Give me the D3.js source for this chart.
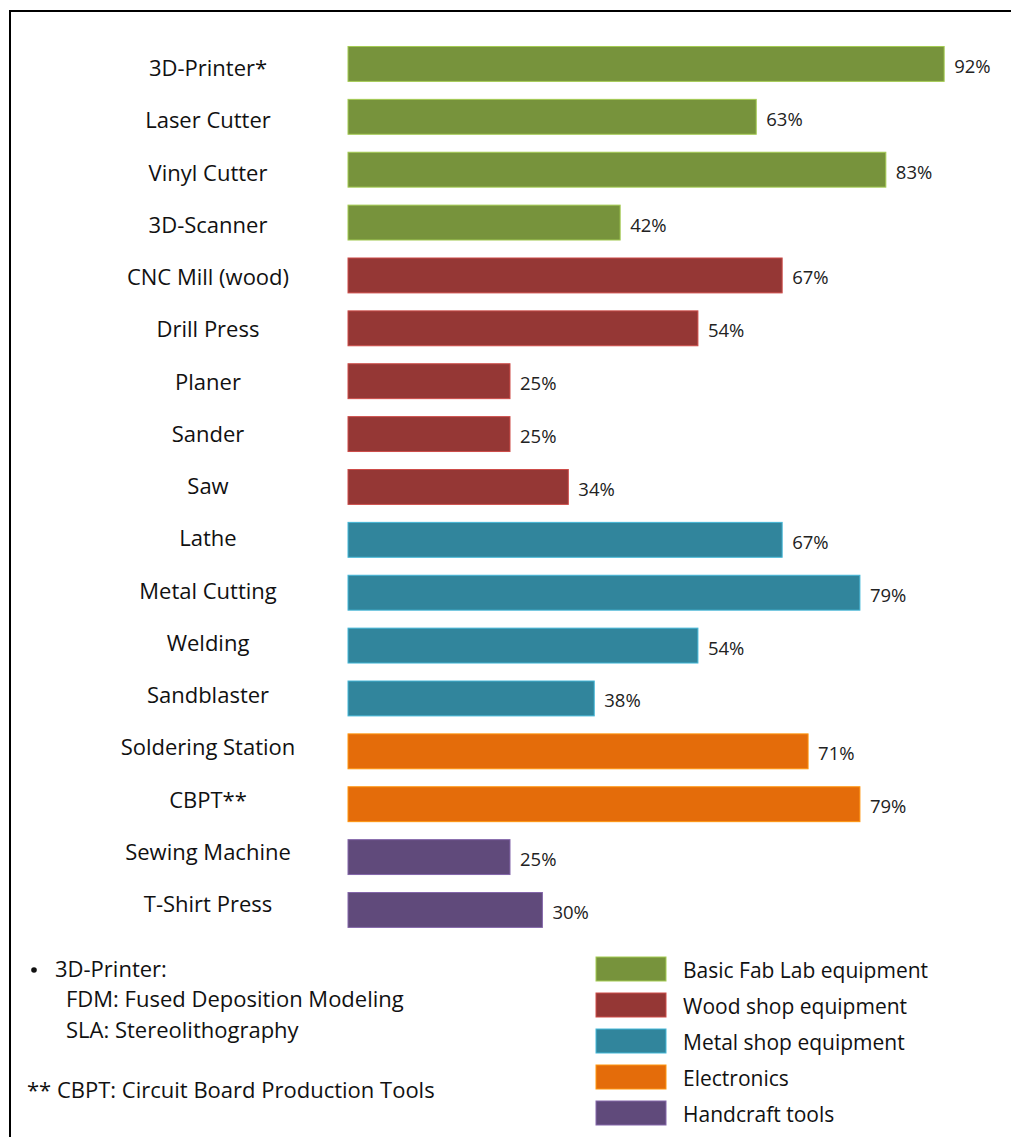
<!DOCTYPE html>
<html>
<head>
<meta charset="utf-8">
<script src="https://cdn.jsdelivr.net/npm/d3@7"></script>
<style>
  html, body { margin: 0; padding: 0; background: #fff; }
  svg { display: block; font-family: "Open Sans", "Noto Sans", sans-serif; }
</style>
</head>
<body>
<svg id="chart" width="1011" height="1137"></svg>
<script>
// Equipment available in labs (share of labs, %)
const categories = [
  "3D-Printer*", "Laser Cutter", "Vinyl Cutter", "3D-Scanner",
  "CNC Mill (wood)", "Drill Press", "Planer", "Sander", "Saw",
  "Lathe", "Metal Cutting", "Welding", "Sandblaster",
  "Soldering Station", "CBPT**",
  "Sewing Machine", "T-Shirt Press"
];
const values = [92, 63, 83, 42, 67, 54, 25, 25, 34, 67, 79, 54, 38, 71, 79, 25, 30];
const groupOf = [0, 0, 0, 0, 1, 1, 1, 1, 1, 2, 2, 2, 2, 3, 3, 4, 4];

const groups = [
  "Basic Fab Lab equipment",
  "Wood shop equipment",
  "Metal shop equipment",
  "Electronics",
  "Handcraft tools"
];
const groupColors = ["#77933C", "#953735", "#31859C", "#E46C0A", "#604A7B"];

const footnotes = [
  { bullet: true, text: "3D-Printer:" },
  { indent: true, text: "FDM: Fused Deposition Modeling" },
  { indent: true, text: "SLA: Stereolithography" },
  { text: "" },
  { text: "** CBPT: Circuit Board Production Tools" }
];

const svg = d3.select("#chart");

// Frame around the figure (left and top edges visible)
svg.append("path")
  .attr("d", "M10,1137 V11 H1011")
  .attr("fill", "none")
  .attr("stroke", "#000")
  .attr("stroke-width", 2);

// Scales
const x = d3.scaleLinear().domain([0, 100]).range([348, 996]);
const y = d3.scaleBand()
  .domain(categories)
  .range([37.5, 936.4])
  .paddingInner(0.34)
  .paddingOuter(0.17);
// Category labels sit in rows slightly tighter than the bars
const yLabel = d3.scalePoint().domain(categories).range([68, 904]);

const color = i => groupColors[groupOf[i]];

// Bars
svg.append("g").selectAll("rect")
  .data(values)
  .join("rect")
  .attr("x", x(0))
  .attr("y", (d, i) => y(categories[i]))
  .attr("width", d => x(d) - x(0))
  .attr("height", y.bandwidth())
  .attr("fill", (d, i) => color(i))
  .attr("stroke", (d, i) => d3.color(color(i)).brighter(0.9))
  .attr("stroke-width", 1);

// Value labels
svg.append("g").selectAll("text")
  .data(values)
  .join("text")
  .attr("x", d => x(d) + 10)
  .attr("y", (d, i) => y(categories[i]) + y.bandwidth() / 2 + 9)
  .attr("font-size", 18.5)
  .attr("fill", "#222")
  .text(d => d + "%");

// Category labels
svg.append("g").selectAll("text")
  .data(categories)
  .join("text")
  .attr("x", 208)
  .attr("y", d => yLabel(d) + 8)
  .attr("text-anchor", "middle")
  .attr("font-size", 22)
  .attr("fill", "#111")
  .text(d => d);

// Legend
const legend = svg.append("g");
const legendY = d3.scalePoint().domain(groups).range([969, 1113]);
legend.selectAll("rect")
  .data(groups)
  .join("rect")
  .attr("x", 596)
  .attr("y", d => legendY(d) - 12)
  .attr("width", 70)
  .attr("height", 24)
  .attr("fill", (d, i) => groupColors[i])
  .attr("stroke", (d, i) => d3.color(groupColors[i]).brighter(0.9))
  .attr("stroke-width", 1);
legend.selectAll("text")
  .data(groups)
  .join("text")
  .attr("x", 683)
  .attr("y", d => legendY(d) + 8.5)
  .attr("font-size", 21)
  .attr("fill", "#111")
  .text(d => d);

// Footnotes
const notes = svg.append("g").attr("font-size", 22).attr("fill", "#111");
const noteY = d3.scaleLinear().domain([0, 4]).range([977, 1098]);
footnotes.forEach((n, i) => {
  if (n.bullet) {
    notes.append("circle").attr("cx", 34).attr("cy", noteY(i) - 7).attr("r", 2.8).attr("fill", "#111");
  }
  notes.append("text")
    .attr("x", n.bullet ? 55 : n.indent ? 66 : 27)
    .attr("y", noteY(i))
    .text(n.text);
});
</script>
</body>
</html>
